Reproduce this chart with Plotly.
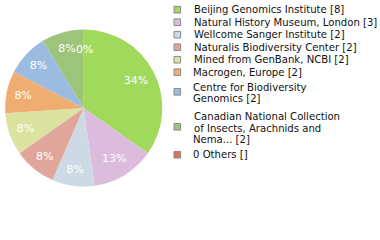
import plotly.graph_objects as go

labels = ["Beijing Genomics Institute [8]", "Natural History Museum, London [3]",
          "Wellcome Sanger Institute [2]", "Naturalis Biodiversity Center [2]",
          "Mined from GenBank, NCBI [2]", "Macrogen, Europe [2]",
          "Centre for Biodiversity<br>Genomics [2]",
          "Canadian National Collection<br>of Insects, Arachnids and<br>Nema... [2]",
          "0 Others []"]
values = [8, 3, 2, 2, 2, 2, 2, 2, 0]
pct_text = ["34%", "13%", "8%", "8%", "8%", "8%", "8%", "8%", "0%"]
colors = ["#a0d95c", "#dcbcdc", "#cddae5", "#e0a69c", "#dce3a0", "#efad71",
          "#9cbbe0", "#9dc47b", "#e07058"]

W, H = 380, 240
cx, cy, r = 83.7, 108.0, 78.6
dom = dict(x=[(cx - r) / W, (cx + r) / W], y=[1 - (cy + r) / H, 1 - (cy - r) / H])
pct_font = dict(color="white", size=11, family="DejaVu Sans")

fig = go.Figure()
fig.add_trace(go.Pie(
    labels=labels, values=values, textinfo="none",
    sort=False, direction="clockwise", rotation=0,
    marker=dict(colors=colors, line=dict(width=0)),
    domain=dom, showlegend=False, hoverinfo="skip",
))
# transparent ring trace only to place the percentage labels at ~3/4 radius
fig.add_trace(go.Pie(
    labels=labels, values=values, text=pct_text, textinfo="text",
    textposition="inside", insidetextorientation="horizontal",
    sort=False, direction="clockwise", rotation=0, hole=0.5,
    marker=dict(colors=["rgba(0,0,0,0)"] * len(values), line=dict(width=0)),
    textfont=pct_font, domain=dom, showlegend=False, hoverinfo="skip",
))

# zero-value slice label at the start angle (top)
for v, t in zip(values, pct_text):
    if v == 0:
        fig.add_annotation(x=cx / W, y=1 - (cy - 0.75 * r) / H, xref="paper", yref="paper",
                           text=t, showarrow=False, xanchor="center", yanchor="middle",
                           xshift=1, font=pct_font)

# legend
sq = 6.6
xs, xt = 174.0, 191.5
ycur = 3.45
for lab, col in zip(labels, colors):
    lines = lab.split("<br>")
    if len(lines) == 1:
        yc = ycur + 6.25
        centers = [yc]
        ycur += 12.5
        ysq = yc
    else:
        top = ycur + 2.75
        centers = [top + 5.9 + 11.8 * i for i in range(len(lines))]
        ycur = top + 11.8 * len(lines) + 2.75
        ysq = (centers[0] + centers[-1]) / 2 - 1.2
    fig.add_shape(type="rect", xref="paper", yref="paper",
                  x0=xs / W, x1=(xs + sq) / W,
                  y0=1 - (ysq + sq / 2) / H, y1=1 - (ysq - sq / 2) / H,
                  fillcolor=col, line=dict(color="#8a8a8a", width=1))
    for ln, yc in zip(lines, centers):
        fig.add_annotation(x=xt / W, y=1 - yc / H, xref="paper", yref="paper",
                           text=ln, showarrow=False, xanchor="left", yanchor="middle",
                           font=dict(size=10.1, family="DejaVu Sans", color="#111"))

fig.update_layout(
    width=W, height=H, margin=dict(l=0, r=0, t=0, b=0),
    paper_bgcolor="white", plot_bgcolor="white",
)
fig.write_html("out.html")
